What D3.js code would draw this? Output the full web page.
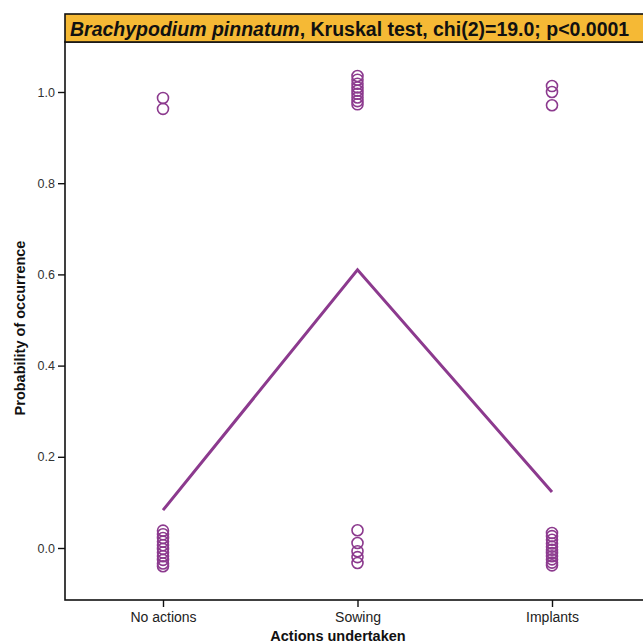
<!DOCTYPE html>
<html><head><meta charset="utf-8">
<script src="https://cdn.jsdelivr.net/npm/d3@7"></script>
<style>body{margin:0;background:#fff;overflow:hidden}</style>
</head><body>
<script>
const categories = ["No actions", "Sowing", "Implants"];
const meanValues = [0.083, 0.61, 0.123];
const pointsNoActions = [0.987, 0.963, 0.038, 0.030, 0.022, 0.014, 0.006, -0.002, -0.010, -0.018, -0.026, -0.034, -0.040];
const pointsSowing = [1.035, 1.027, 1.018, 1.010, 1.003, 0.996, 0.988, 0.980, 0.973, 0.039, 0.011, -0.007, -0.020, -0.033];
const pointsImplants = [1.013, 1.000, 0.971, 0.033, 0.026, 0.018, 0.010, 0.003, -0.004, -0.011, -0.018, -0.025, -0.032, -0.038];
const yTicks = [0.0, 0.2, 0.4, 0.6, 0.8, 1.0];

const W = 643, H = 644;
const mLeft = 65, mTop = 42, mBottom = 600, mRight = 670;
const purple = "#8c3a8e";

const svg = d3.select("body").append("svg").attr("width", W).attr("height", H)
  .style("display", "block")
  .style("font-family", "Arial, 'Liberation Sans', sans-serif");

const x = d3.scalePoint().domain(categories).range([163, 552]);
const y = d3.scaleLinear().domain([0, 1]).range([548, 92]);

// frame
svg.append("rect").attr("x", mLeft).attr("y", mTop).attr("width", mRight - mLeft).attr("height", mBottom - mTop)
  .attr("fill", "#fff").attr("stroke", "#111").attr("stroke-width", 1.6);

// title box
svg.append("rect").attr("x", mLeft).attr("y", 14).attr("width", mRight - mLeft).attr("height", 28)
  .attr("fill", "#f5b935").attr("stroke", "#111").attr("stroke-width", 1.6);
const t = svg.append("text").attr("x", 70).attr("y", 35.5).attr("font-size", 19.5).attr("font-weight", "bold").attr("fill", "#111");
t.append("tspan").attr("font-style", "italic").text("Brachypodium pinnatum");
t.append("tspan").text(", Kruskal test, chi(2)=19.0; p<0.0001");

// axes
const yAxis = d3.axisLeft(y).tickValues(yTicks).tickFormat(d3.format(".1f")).tickSize(7).tickPadding(3);
const gy = svg.append("g").attr("transform", `translate(${mLeft},0)`).call(yAxis);
gy.select(".domain").remove();
gy.selectAll("line").attr("stroke", "#111").attr("stroke-width", 1.4);
gy.selectAll("text").attr("font-size", 12.5).attr("fill", "#333").attr("font-family", "Arial, 'Liberation Sans', sans-serif");

const xAxis = d3.axisBottom(x).tickSize(7).tickPadding(5);
const gx = svg.append("g").attr("transform", `translate(0,${mBottom})`).call(xAxis);
gx.select(".domain").remove();
gx.selectAll("line").attr("stroke", "#111").attr("stroke-width", 1.4);
gx.selectAll("text").attr("font-size", 14).attr("fill", "#222").attr("font-family", "Arial, 'Liberation Sans', sans-serif");

// axis titles
svg.append("text").attr("x", 338).attr("y", 641).attr("text-anchor", "middle")
  .attr("font-size", 14.5).attr("font-weight", "bold").attr("fill", "#111").text("Actions undertaken");
svg.append("text").attr("transform", "translate(25,328) rotate(-90)").attr("text-anchor", "middle")
  .attr("font-size", 14.5).attr("font-weight", "bold").attr("fill", "#111").text("Probability of occurrence");

// points
const groups = [pointsNoActions, pointsSowing, pointsImplants];
groups.forEach((pts, i) => {
  svg.append("g").selectAll("circle").data(pts).join("circle")
    .attr("cx", x(categories[i])).attr("cy", d => y(d)).attr("r", 5.5)
    .attr("fill", "none").attr("stroke", purple).attr("stroke-width", 1.6);
});

// mean line
const line = d3.line().x((d, i) => x(categories[i])).y(d => y(d));
svg.append("path").datum(meanValues).attr("d", line).attr("fill", "none")
  .attr("stroke", purple).attr("stroke-width", 3);
</script>
</body></html>
